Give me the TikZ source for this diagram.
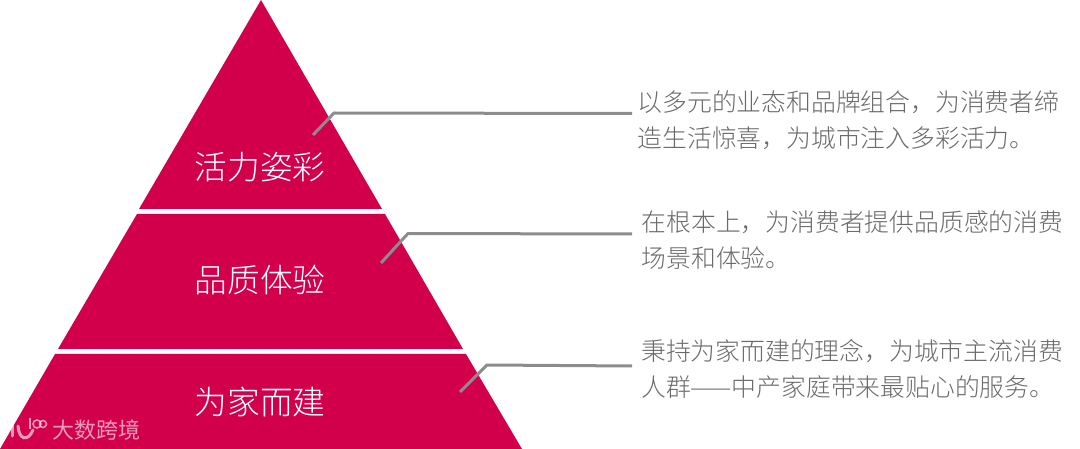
\documentclass[tikz,border=0pt]{standalone}
\usepackage{fontspec}
\setmainfont{Noto Sans CJK SC Light}
\newfontfamily\wmfont{Noto Sans CJK SC}
\definecolor{pyr}{HTML}{D2004B}
\definecolor{linegray}{HTML}{8C8C8C}
\definecolor{txtgray}{HTML}{6A6A6A}
\tikzset{
  x=1pt,y=-1pt,
  tier/.style={fill=pyr,draw=none},
  tierlabel/.style={text=white,font=\fontsize{32.7}{36}\selectfont,inner sep=0pt,anchor=center},
  desc/.style={text=txtgray,font=\fontsize{24.8}{36}\selectfont,inner sep=0pt,anchor=west,align=left},
  leader/.style={draw=linegray,line width=3pt,line join=round},
  wm/.style={white,opacity=.6}
}
\begin{document}
\begin{tikzpicture}
\useasboundingbox (0,0) rectangle (1080,449);
\fill[tier] (261,0) -- (382,209) -- (139,209) -- cycle;
\fill[tier] (137,214) -- (385,214) -- (463,349) -- (58,349) -- cycle;
\fill[tier] (55,354) -- (466,354) -- (522,449) -- (0,449) -- cycle;
\node[tierlabel] (t1) at (260,167) {活力姿彩};
\node[tierlabel] (t2) at (260,280) {品质体验};
\node[tierlabel] (t3) at (260,402) {为家而建};
\node[desc] (d1) at (637.5,120.5) {以多元的业态和品牌组合，为消费者缔\\造生活惊喜，为城市注入多彩活力。};
\node[desc] (d2) at (641.5,240.5) {在根本上，为消费者提供品质感的消费\\场景和体验。};
\node[desc] (d3) at (641,368.5) {秉持为家而建的理念，为城市主流消费\\人群——中产家庭带来最贴心的服务。};
\coordinate (a1) at (313,135);
\coordinate (a2) at (381,263);
\coordinate (a3) at (460,392);
\coordinate (e1) at (632,113.5);
\coordinate (e2) at (632,234);
\coordinate (e3) at (632,366);
\draw[leader] (a1) -- (334,113) -- (e1);
\draw[leader] (a2) -- (408,233.5) -- (e2);
\draw[leader] (a3) -- (487,365) -- (e3);
% watermark
\node[wm,text opacity=.6,inner sep=0pt,font=\wmfont\fontsize{22}{24}\selectfont,anchor=west] (w) at (52,430) {大数跨境};
\draw[wm,line width=3pt,line cap=round] (12,421) -- (12,436);
\draw[wm,line width=3pt,line cap=round] (18,426) .. controls (19,440) and (28,442) .. (33,430);
\draw[wm,line width=1.5pt] (37,424) ellipse (4 and 4);
\draw[wm,line width=1.5pt] (43,424) ellipse (3.5 and 3.5);
\draw[wm,line width=1.5pt] (30,418) -- (30,429);
\end{tikzpicture}
\end{document}
